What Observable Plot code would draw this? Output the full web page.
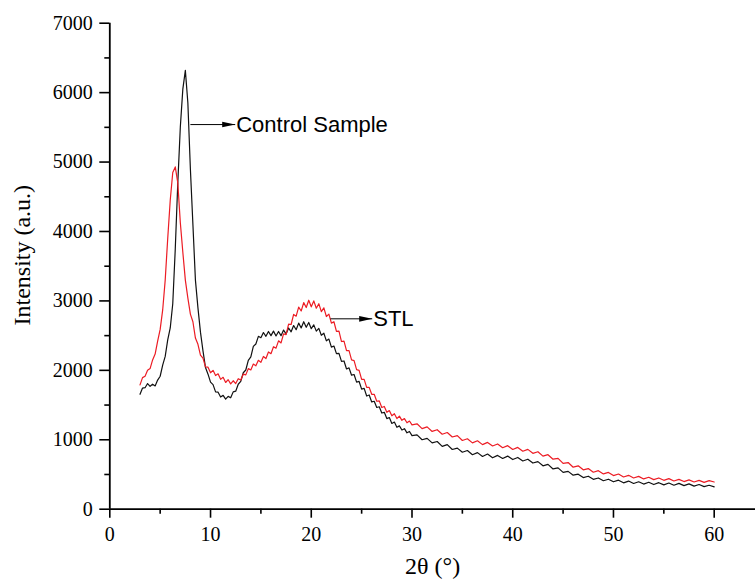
<!DOCTYPE html>
<html>
<head>
<meta charset="utf-8">
<script src="https://cdn.jsdelivr.net/npm/d3@7"></script>
<script src="https://cdn.jsdelivr.net/npm/@observablehq/plot@0.6"></script>
<style>
  html, body { margin: 0; padding: 0; background: #ffffff; }
  #chart svg { display: block; }
</style>
</head>
<body>
<div id="chart"></div>
<script>
// 2θ positions (degrees)
const twoTheta = [
  3, 3.25, 3.5, 3.75, 4, 4.25, 4.5, 4.75, 5, 5.25, 5.5, 5.75, 6, 6.25, 6.5, 6.75,
  7, 7.25, 7.5, 7.75, 8, 8.25, 8.5, 8.75, 9, 9.25, 9.5, 9.75, 10, 10.25, 10.5, 10.75,
  11, 11.25, 11.5, 11.75, 12, 12.25, 12.5, 12.75, 13, 13.25, 13.5, 13.75, 14, 14.25, 14.5, 14.75,
  15, 15.25, 15.5, 15.75, 16, 16.25, 16.5, 16.75, 17, 17.25, 17.5, 17.75, 18, 18.25, 18.5, 18.75,
  19, 19.25, 19.5, 19.75, 20, 20.25, 20.5, 20.75, 21, 21.25, 21.5, 21.75, 22, 22.25, 22.5, 22.75,
  23, 23.25, 23.5, 23.75, 24, 24.25, 24.5, 24.75, 25, 25.25, 25.5, 25.75, 26, 26.25, 26.5, 26.75,
  27, 27.25, 27.5, 27.75, 28, 28.25, 28.5, 28.75, 29, 29.25, 29.5, 29.75, 30,
  30.5, 31, 31.5, 32, 32.5, 33, 33.5, 34, 34.5, 35,
  35.5, 36, 36.5, 37, 37.5, 38, 38.5, 39, 39.5, 40,
  40.5, 41, 41.5, 42, 42.5, 43, 43.5, 44, 44.5, 45,
  45.5, 46, 46.5, 47, 47.5, 48, 48.5, 49, 49.5, 50,
  50.5, 51, 51.5, 52, 52.5, 53, 53.5, 54, 54.5, 55,
  55.5, 56, 56.5, 57, 57.5, 58, 58.5, 59, 59.5, 60
];

// Control Sample intensity (a.u.)
const controlSample = [
  1655, 1745, 1750, 1810, 1770, 1800, 1775, 1860, 1915, 2075, 2200, 2440, 2610, 2960, 3750, 4700,
  5500, 6050, 6320, 5850, 4900, 4100, 3300, 2900, 2550, 2280, 2040, 1945, 1830, 1795, 1690, 1685,
  1615, 1640, 1585, 1625, 1605, 1690, 1700, 1800, 1840, 1965, 2005, 2145, 2195, 2345, 2380, 2490,
  2470, 2545, 2490, 2560, 2500, 2565, 2495, 2560, 2500, 2580, 2525, 2610, 2555, 2645, 2585, 2680,
  2610, 2700, 2620, 2690, 2600, 2655, 2565, 2605, 2505, 2535, 2425, 2450, 2335, 2350, 2240, 2245,
  2130, 2135, 2020, 2035, 1930, 1940, 1830, 1840, 1730, 1740, 1630, 1645, 1545, 1555, 1465, 1475,
  1385, 1395, 1305, 1320, 1235, 1255, 1180, 1200, 1140, 1160, 1100, 1120, 1060,
  1070, 1000, 1020, 955, 975, 905, 930, 860, 880, 820,
  845, 785, 815, 760, 795, 740, 775, 730, 765, 715,
  745, 695, 720, 665, 685, 625, 645, 580, 595, 530,
  545, 490, 505, 455, 475, 430, 450, 410, 432, 395,
  418, 380, 405, 370, 395, 362, 388, 355, 382, 350,
  377, 345, 372, 340, 365, 332, 355, 325, 345, 322
];

// STL intensity (a.u.)
const stl = [
  1790, 1895, 1915, 2000, 2025, 2150, 2235, 2420, 2590, 2870, 3300, 3900, 4450, 4850, 4930, 4700,
  4130, 3700, 3300, 3040, 2810, 2700, 2465, 2375, 2220, 2175, 2050, 2045, 1965, 2000, 1925, 1950,
  1870, 1900, 1825, 1865, 1805, 1850, 1810, 1880, 1860, 1945, 1935, 2025, 2005, 2090, 2065, 2145,
  2115, 2200, 2170, 2265, 2240, 2340, 2320, 2425, 2395, 2525, 2515, 2665, 2660, 2805, 2780, 2910,
  2855, 2975, 2905, 3010, 2915, 3000, 2895, 2960, 2845, 2900, 2775, 2810, 2680, 2700, 2560, 2565,
  2415, 2420, 2285, 2285, 2150, 2140, 2010, 2000, 1870, 1870, 1755, 1755, 1655, 1655, 1555, 1560,
  1465, 1480, 1395, 1420, 1345, 1375, 1305, 1340, 1280, 1305, 1245, 1270, 1215,
  1230, 1160, 1185, 1120, 1145, 1080, 1105, 1040, 1060, 990,
  1015, 955, 985, 930, 962, 910, 940, 885, 915, 860,
  890, 835, 862, 805, 828, 765, 785, 720, 732, 660,
  672, 605, 625, 567, 585, 532, 555, 508, 530, 484,
  507, 464, 488, 450, 473, 436, 460, 426, 450, 416,
  440, 406, 430, 398, 422, 392, 416, 387, 412, 392
];

// Axis ticks
const xMajorTicks = [0, 10, 20, 30, 40, 50, 60];
const xMinorTicks = [5, 15, 25, 35, 45, 55];
const yMajorTicks = [0, 1000, 2000, 3000, 4000, 5000, 6000, 7000];
const yMinorTicks = [500, 1500, 2500, 3500, 4500, 5500, 6500];

// Annotations
const annotationLabels = ["Control Sample", "STL"];
const annotationStartX = [8.0, 21.9];
const annotationEndX = [12.45, 26.05];
const annotationY = [5540, 2742];

const xLabel = "2θ (°)";
const yLabel = "Intensity (a.u.)";

const controlRows = twoTheta.map((t, i) => ({t, v: controlSample[i]}));
const stlRows = twoTheta.map((t, i) => ({t, v: stl[i]}));
const annRows = annotationLabels.map((label, i) => ({
  label, x1: annotationStartX[i], x2: annotationEndX[i], y: annotationY[i]
}));

const arrowHead = {
  draw(context) {
    context.moveTo(0, 0);
    context.lineTo(-13, -2.8);
    context.lineTo(-13, 2.8);
    context.closePath();
  }
};

const serif = "'Liberation Serif', 'Times New Roman', serif";
const sans = "'Liberation Sans', Arial, sans-serif";

const chart = Plot.plot({
  width: 755,
  height: 581,
  marginLeft: 109.3,
  marginRight: 0,
  marginTop: 22.7,
  marginBottom: 72.3,
  x: {domain: [0, 64.1], label: null},
  y: {domain: [0, 7000], label: null},
  style: {fontFamily: serif, fontSize: "20px", color: "#000", background: "#fff"},
  marks: [
    Plot.axisX(xMinorTicks, {tickSize: 5, tickFormat: () => "", label: null, strokeWidth: 1.6}),
    Plot.axisX(xMajorTicks, {tickSize: 9, tickPadding: 9, tickFormat: d => String(d), label: null, strokeWidth: 1.6, fontSize: 20, fontFamily: serif}),
    Plot.axisY(yMinorTicks, {tickSize: 5, tickFormat: () => "", label: null, strokeWidth: 1.6}),
    Plot.axisY(yMajorTicks, {tickSize: 10, tickPadding: 7, tickFormat: d => String(d), label: null, strokeWidth: 1.6, fontSize: 20, fontFamily: serif}),
    Plot.ruleY([0], {stroke: "#000", strokeWidth: 1.8}),
    Plot.ruleX([0], {stroke: "#000", strokeWidth: 1.8}),
    Plot.line(controlRows, {x: "t", y: "v", stroke: "#111", strokeWidth: 1.2}),
    Plot.line(stlRows, {x: "t", y: "v", stroke: "#ec1c24", strokeWidth: 1.2}),
    Plot.link(annRows, {x1: "x1", x2: "x2", y1: "y", y2: "y", stroke: "#000", strokeWidth: 1}),
    Plot.dot(annRows, {x: "x2", y: "y", symbol: arrowHead, fill: "#000", stroke: "none"}),
    Plot.text(annRows, {x: "x2", y: "y", text: "label", textAnchor: "start", dx: 1, fontFamily: sans, fontSize: 22, fill: "#000"}),
    Plot.text([yLabel], {frameAnchor: "left", textAnchor: "middle", lineAnchor: "middle", rotate: -90, dx: -87, dy: -11, fontFamily: serif, fontSize: 24, fill: "#000"}),
    Plot.text([xLabel], {frameAnchor: "bottom", textAnchor: "middle", lineAnchor: "middle", dy: 57, fontFamily: serif, fontSize: 24, fill: "#000"})
  ]
});

document.getElementById("chart").appendChild(chart);
</script>
</body>
</html>
